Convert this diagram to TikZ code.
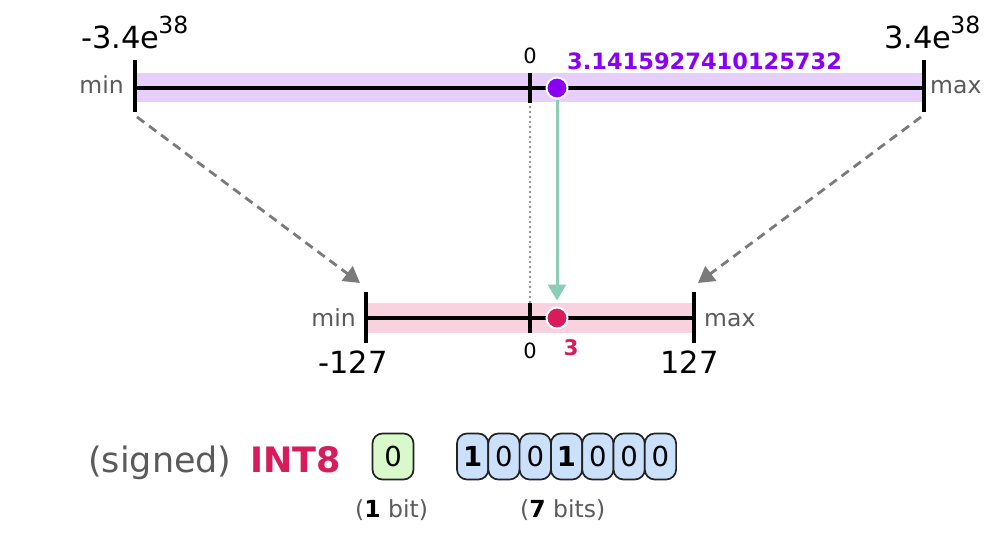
\documentclass[tikz,border=0pt]{standalone}
\usepackage{fontspec}
\setmainfont{DejaVu Sans}
\usetikzlibrary{arrows.meta}
\definecolor{bandpurple}{HTML}{E6CFFA}
\definecolor{dotpurple}{HTML}{8A00F5}
\definecolor{bandpink}{HTML}{F8D2DE}
\definecolor{dotred}{HTML}{D81B5B}
\definecolor{arrowteal}{HTML}{8CCDB5}
\definecolor{labelgray}{HTML}{5A5A5A}
\definecolor{dashgray}{HTML}{7A7A7A}
\definecolor{bitgreen}{HTML}{D8F9C9}
\definecolor{bitblue}{HTML}{CBE0FA}
\definecolor{bitedge}{HTML}{222222}
\tikzset{
  axisline/.style={line width=3.2pt, black},
  tickmark/.style={line width=3.8pt, black},
  valdot/.style={circle, draw=white, line width=2pt, minimum size=21pt, inner sep=0pt},
  lbl/.style={inner sep=0pt, anchor=base},
  biglbl/.style={lbl, font=\fontsize{30.5}{32}\selectfont},
  endlbl/.style={lbl, font=\fontsize{23.5}{25}\selectfont, text=labelgray},
  zerolbl/.style={lbl, font=\fontsize{21}{22}\selectfont},
  mapline/.style={dashgray, line width=2.8pt, dash pattern=on 9pt off 6pt, -{Triangle[length=16pt,width=18pt]}},
  bitbox/.style={draw=bitedge, line width=1.7pt, rounded corners=10pt, minimum height=46pt, inner sep=0pt, font=\fontsize{27.5}{29}\selectfont},
  bitnote/.style={lbl, font=\fontsize{23.5}{25}\selectfont, text=labelgray},
}
\begin{document}
\begin{tikzpicture}[x=1pt,y=-1pt]
\useasboundingbox (0,0) rectangle (1002,538);
% ---- top (float32) axis
\fill[bandpurple] (135,73) rectangle (924,102);
\coordinate (tl) at (135,88);
\coordinate (tr) at (924,88);
\coordinate (tz) at (530,88);
\draw[axisline] (tl) -- (tr);
\draw[tickmark] (135,60) -- (135,112);
\draw[tickmark] (924,60) -- (924,112);
\draw[tickmark] (530,73) -- (530,103);
\coordinate (tlfoot) at (137,117);
\coordinate (trfoot) at (921,117);
\coordinate (tzfoot) at (530,107);
% ---- bottom (int8) axis
\fill[bandpink] (366,303) rectangle (694,333);
\coordinate (bl) at (366,318);
\coordinate (br) at (694,318);
\draw[axisline] (bl) -- (br);
\draw[tickmark] (366,292) -- (366,343);
\draw[tickmark] (694,292) -- (694,343);
\draw[tickmark] (530,303) -- (530,333);
\coordinate (blhead) at (360,283);
\coordinate (brhead) at (698,283);
\coordinate (bzhead) at (530,302);
% ---- mapping lines
\draw[mapline] (tlfoot) -- (blhead);
\draw[mapline] (trfoot) -- (brhead);
\draw[dashgray!85, line width=2.6pt, line cap=round, dash pattern=on 0pt off 5pt] (tzfoot) -- (bzhead);
% ---- value dots
\node[valdot, fill=dotpurple] (pd) at (557,88) {};
\node[valdot, fill=dotred] (rd) at (557,318) {};
\draw[arrowteal, line width=3pt, -{Triangle[length=16pt,width=18pt]}, shorten >=6pt] (pd.south) -- (rd.north);
% ---- top labels
\node[biglbl, anchor=base west] (tmin) at (81,48) {-3.4e\kern-1pt\raisebox{14pt}{\fontsize{23.5}{25}\selectfont 38}};
\node[biglbl, anchor=base west] (tmax) at (884,48) {3.4e\kern-1pt\raisebox{14pt}{\fontsize{23.5}{25}\selectfont 38}};
\node[zerolbl] (tzero) at (530,63) {0};
\node[lbl, anchor=base west, font=\fontsize{22.5}{24}\selectfont\bfseries, text=dotpurple] (pival) at (567,69) {3.1415927410125732};
\node[endlbl, anchor=base east] (tminw) at (124,93) {min};
\node[endlbl, anchor=base west] (tmaxw) at (930,93) {max};
% ---- bottom labels
\node[endlbl, anchor=base east] (bminw) at (356,326) {min};
\node[endlbl, anchor=base west] (bmaxw) at (704,326) {max};
\node[zerolbl] (bzero) at (530,358) {0};
\node[lbl, font=\fontsize{21.5}{23}\selectfont\bfseries, text=dotred] (three) at (571,355) {3};
\node[biglbl, anchor=base west] (bmin) at (318,373) {-127};
\node[biglbl, anchor=base west] (bmax) at (660,373) {127};
% ---- INT8 representation
\node[lbl, anchor=base west, font=\fontsize{35}{37}\selectfont, text=labelgray] (signed) at (88,472) {(signed)};
\node[lbl, anchor=base west, font=\fontsize{35}{37}\selectfont\bfseries, text=dotred] (int8) at (250,472) {INT8};
\node[bitbox, fill=bitgreen, minimum width=41pt] (sign) at (393,456.5) {0};
\foreach \b/\w [count=\i from 0] in {1/\bfseries,0/,0/,1/\bfseries,0/,0/,0/} {
  \node[bitbox, fill=bitblue, minimum width=31.3pt] (m\i) at ({472.65+31.3*\i},456.5) {\w\b};
}
\node[bitnote, anchor=base west] (onebit) at (355,517) {(\textbf{\textcolor{black}{1}} bit)};
\node[bitnote, anchor=base west] (sevenbits) at (520,517) {(\textbf{\textcolor{black}{7}} bits)};
\end{tikzpicture}
\end{document}
